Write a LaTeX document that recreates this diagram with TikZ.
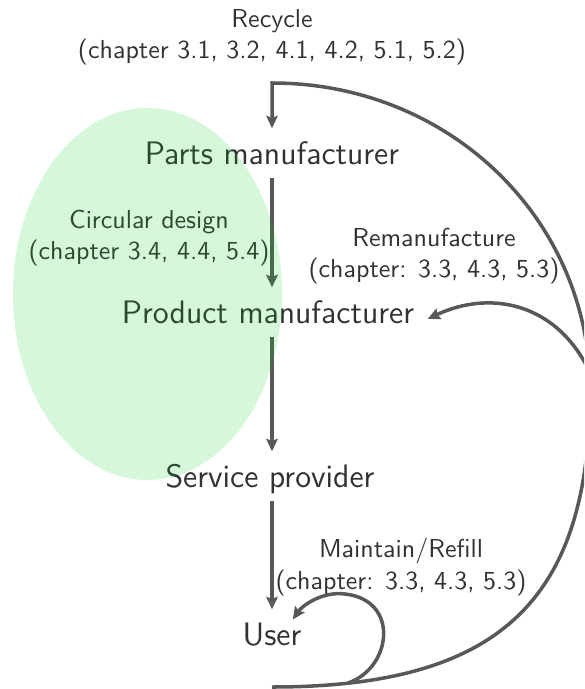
\documentclass[tikz,border=0pt]{standalone}
\usetikzlibrary{arrows.meta}
\definecolor{linegray}{RGB}{88,88,88}
\definecolor{textgray}{RGB}{50,50,50}
\definecolor{designgreen}{RGB}{0,205,20}

\begin{document}
\begin{tikzpicture}[x=0.385pt,y=-0.385pt,font=\sffamily,
    stage/.style={font=\sffamily\fontsize{12.5}{15}\selectfont,text=textgray,inner sep=5pt,text height=8.6pt,text depth=0pt},
    note/.style={text=textgray,align=center,inner sep=0pt},
    flow/.style={draw=linegray,line width=1.35pt,-{Stealth[length=4.8pt,width=4.4pt,inset=0.8pt]}}]
            \useasboundingbox (0,0) rectangle (584,689);
            \clip (0,0) rectangle (584,689);
            % stages of the chain
            \node[stage] (parts) at (272,153) {Parts manufacturer};
            \node[stage] (product) at (268,312) {Product manufacturer};
            \node[stage] (service) at (270,476) {Service provider};
            \node[stage] (user) at (272,634) {User};
            % loop labels
            \node[note] (recycle) at (272,37) {Recycle\\(chapter 3.1, 3.2, 4.1, 4.2, 5.1, 5.2)};
            \node[note] (design) at (149,238) {Circular design\\(chapter 3.4, 4.4, 5.4)};
            \node[note] (reman) at (434,256) {Remanufacture\\(chapter: 3.3, 4.3, 5.3)};
            \node[note] (maintain) at (401,567) {Maintain/Refill\\(chapter: 3.3, 4.3, 5.3)};
            % forward flow
            \draw[flow] (parts.south) -- (parts.south |- product.north);
            \draw[flow] (parts.south |- product.south) -- (parts.south |- service.north);
            \draw[flow] (parts.south |- service.south) -- (user.north);
            % return loops
            \coordinate (base) at (272,687);
            \coordinate (corner) at (272,83);
            \coordinate (fork) at (348,683);
            \coordinate (inflow) at (600,400);
            \draw[flow] (base) .. controls (500,687) and (590,600) .. (590,390)
                .. controls (590,220) and (450,83) .. (corner) -- (parts.north);
            \draw[flow] (inflow) .. controls (575,310) and (500,285) .. ([yshift=-2.7pt]product.east);
            \draw[flow] (fork) .. controls (392,668) and (400,600) .. (345,594)
                .. controls (322,591) and (302,606) .. ([shift={(-8.5pt,-3.9pt)}]user.north east);
            % circular design area
            \fill[designgreen,opacity=0.16] (147.5,294) ellipse [x radius=51.8pt, y radius=71.6pt];
        \end{tikzpicture}
\end{document}
